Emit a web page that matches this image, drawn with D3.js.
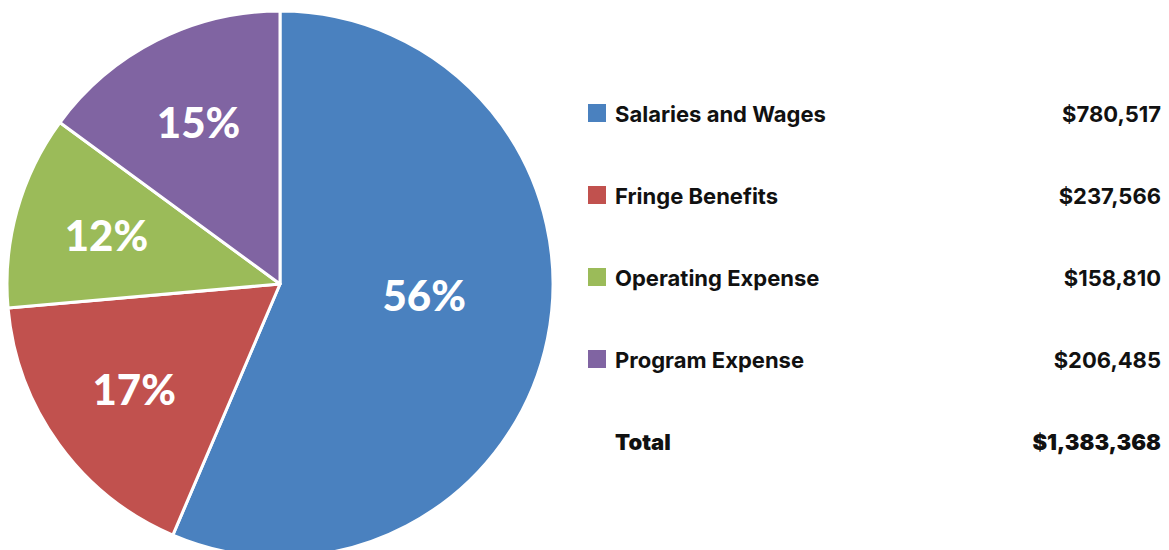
<!DOCTYPE html>
<html>
<head>
<meta charset="utf-8">
<script src="https://cdn.jsdelivr.net/npm/d3@7"></script>
<style>
  body { margin: 0; background: #fff; }
  svg { display: block; }
  .legend text { font-family: Inter, "Open Sans", sans-serif; font-weight: 700; font-size: 22px; fill: #111; }
  .legend text.total { font-weight: 900; }
  .pct { font-family: Lato, sans-serif; font-weight: 900; font-size: 42px; fill: #fff; }
</style>
</head>
<body>
<div id="graf"></div>
<script>
// datos
categorias = ['Salaries and Wages', 'Fringe Benefits', 'Operating Expense', 'Program Expense']
valores = [780517, 237566, 158810, 206485]
montos = ['$780,517', '$237,566', '$158,810', '$206,485']
porcentajes = ['56%', '17%', '12%', '15%']
totalEtiqueta = 'Total'
totalMonto = '$1,383,368'

// configuracion
ancho_total = 1169
alto_total = 550
centro = { x: 280, y: 284 }
radio = 273

svg = d3.select('#graf').append('svg')
        .attr('width', ancho_total)
        .attr('height', alto_total)

color = d3.scaleOrdinal()
        .domain(categorias)
        .range(['#4a81bf', '#c1514e', '#9bbb59', '#8064a2'])

pie = d3.pie().sort(null).value(d => d.valor)
arc = d3.arc().innerRadius(0).outerRadius(radio)

datos = categorias.map((c, i) => ({ cat: c, valor: valores[i], pct: porcentajes[i], monto: montos[i] }))
arcos = pie(datos)

g = svg.append('g')
        .attr('transform', `translate(${centro.x}, ${centro.y})`)

g.selectAll('path')
        .data(arcos)
        .join('path')
        .attr('d', arc)
        .attr('fill', d => color(d.data.cat))
        .attr('stroke', '#fff')
        .attr('stroke-width', 3)
        .attr('stroke-linejoin', 'round')

// etiquetas: las rebanadas grandes mas cerca del centro
g.selectAll('text.pct')
        .data(arcos)
        .join('text')
        .attr('class', 'pct')
        .attr('transform', d => {
                grande = (d.endAngle - d.startAngle) > Math.PI
                r = grande ? radio * 0.53 : radio * 0.66
                a = (d.startAngle + d.endAngle) / 2
                if (grande) a -= 0.12
                return `translate(${Math.sin(a) * r}, ${-Math.cos(a) * r})`
        })
        .attr('text-anchor', 'middle')
        .attr('dy', '0.36em')
        .text(d => d.data.pct)

// leyenda
filas = datos.map(d => ({ cat: d.cat, monto: d.monto, swatch: true }))
filas.push({ cat: totalEtiqueta, monto: totalMonto, swatch: false })

y = d3.scalePoint()
        .domain(d3.range(filas.length))
        .range([114, 442])

leyenda = svg.append('g').attr('class', 'legend')

fila = leyenda.selectAll('g')
        .data(filas)
        .join('g')
        .attr('transform', (d, i) => `translate(0, ${y(i)})`)

fila.filter(d => d.swatch)
        .append('rect')
        .attr('x', 588)
        .attr('y', -10)
        .attr('width', 18)
        .attr('height', 18)
        .attr('fill', d => color(d.cat))

fila.append('text')
        .attr('class', d => d.swatch ? null : 'total')
        .attr('x', 615)
        .attr('dy', '0.35em')
        .text(d => d.cat)

fila.append('text')
        .attr('class', d => d.swatch ? null : 'total')
        .attr('x', 1161)
        .attr('dy', '0.35em')
        .attr('text-anchor', 'end')
        .text(d => d.monto)
</script>
</body>
</html>
